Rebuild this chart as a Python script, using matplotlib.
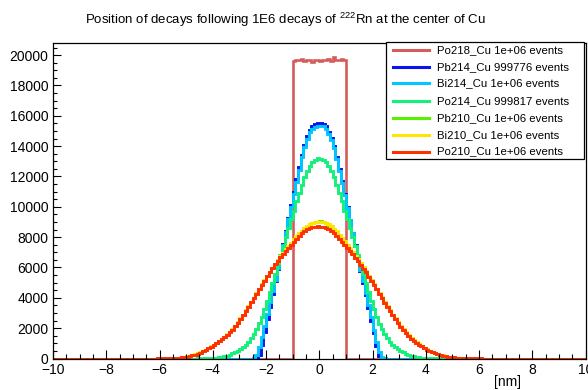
import numpy as np
import matplotlib
matplotlib.use("Agg")
import matplotlib.pyplot as plt
from matplotlib.lines import Line2D
from matplotlib.patches import Rectangle

plt.rcParams['font.family'] = ['Liberation Sans', 'DejaVu Sans']
plt.rcParams['mathtext.fontset'] = 'custom'
plt.rcParams['mathtext.rm'] = 'Liberation Sans'

# ---------------- data (counts per bin) ----------------
BIN = 0.1

po218_start = -1.0
po218 = [19600, 19700, 19650, 19750, 19600, 19700, 19650, 19550, 19700, 19650,
         19600, 19700, 19650, 19750, 19600, 19850, 19700, 19650, 19750, 19700]

pb214_start = -2.4
pb214_left = [0, 220, 880, 1720, 2580, 3420, 4280, 5080, 5900, 6750, 7580, 8420,
              9260, 10100, 10950, 11800, 12600, 13400, 14100, 14650, 15050, 15300, 15450, 15500]
pb214_right = [15520, 15450, 15300, 14950, 14550, 14000, 13300, 12500, 11700, 10850, 10000, 9150,
               8300, 7450, 6650, 5800, 5000, 4200, 3350, 2500, 1650, 800, 150, 0]

bi214_start = -2.5
bi214_left = [40, 250, 750, 1400, 2150, 2950, 3700, 4450, 5200, 5950, 6750, 7500, 8350,
              9200, 10000, 10850, 11650, 12450, 13250, 13950, 14500, 14900, 15150, 15250, 15350]
bi214_right = [15300, 15350, 15150, 14800, 14400, 13850, 13150, 12350, 11550, 10750, 9900, 9100,
               8250, 7400, 6650, 5850, 5100, 4350, 3550, 2750, 1900, 1100, 450, 100, 10]

po214_start = -4.7
po214_left = [0, 2, 4, 7, 11, 17, 26, 40, 58, 84, 115, 150, 195, 255, 330, 410, 510, 620, 750, 910,
              1110, 1340, 1610, 1960, 2320, 2760, 3260, 3800, 4400, 5000, 5600, 6200, 6800, 7400,
              8000, 8600, 9200, 9750, 10350, 10900, 11450, 11950, 12350, 12700, 12950, 13100, 13200]
po214_right = [13150, 13100, 12950, 12700, 12350, 11950, 11450, 10900, 10350, 9750, 9200, 8600,
               8000, 7400, 6800, 6200, 5600, 5000, 4400, 3800, 3250, 2750, 2300, 1950, 1600, 1330,
               1100, 900, 740, 610, 500, 400, 320, 250, 190, 145, 110, 80, 55, 38, 25, 16, 10, 6, 3, 1, 0]

wide_start = -6.2
pb210_left = [0, 2, 4, 7, 11, 17, 25, 35, 48, 64, 85, 110, 140, 176, 220, 272, 334, 405, 487, 578,
              680, 792, 905, 1025, 1155, 1295, 1435, 1585, 1745, 1925, 2135, 2385, 2635, 2895, 3165,
              3445, 3725, 4015, 4305, 4595, 4885, 5165, 5445, 5715, 5985, 6245, 6495, 6735, 6965,
              7195, 7415, 7635, 7845, 8055, 8245, 8425, 8595, 8735, 8845, 8925, 8985, 9030]
pb210_right = [9050, 8990, 8920, 8830, 8710, 8550, 8370, 8160, 7940, 7710, 7480, 7250, 7010, 6770,
               6520, 6270, 6010, 5740, 5460, 5180, 4890, 4600, 4310, 4020, 3730, 3440, 3160, 2890,
               2630, 2380, 2140, 1920, 1710, 1510, 1335, 1195, 1065, 940, 820, 710, 610, 520, 440,
               368, 305, 250, 203, 161, 127, 98, 74, 54, 39, 28, 20, 14, 9, 6, 4, 2, 1, 0]

bi210_left = [0, 2, 4, 7, 12, 18, 26, 36, 49, 65, 86, 112, 142, 178, 222, 275, 337, 408, 490, 582,
              684, 796, 910, 1030, 1160, 1300, 1440, 1590, 1750, 1930, 2140, 2390, 2640, 2900, 3170,
              3450, 3730, 4020, 4310, 4600, 4890, 5170, 5450, 5720, 5990, 6250, 6500, 6740, 6970,
              7200, 7420, 7640, 7850, 8060, 8250, 8430, 8600, 8740, 8850, 8930, 8980, 9000]
bi210_right = [9020, 8990, 8930, 8840, 8720, 8560, 8380, 8170, 7950, 7720, 7490, 7260, 7020, 6780,
               6530, 6280, 6020, 5750, 5470, 5190, 4900, 4610, 4320, 4030, 3740, 3450, 3170, 2900,
               2640, 2390, 2150, 1930, 1720, 1520, 1340, 1200, 1070, 945, 825, 715, 615, 525, 445,
               372, 308, 252, 205, 163, 128, 99, 75, 55, 40, 29, 21, 15, 10, 7, 4, 2, 1, 0]

po210_left = [0, 1, 3, 6, 10, 15, 22, 31, 43, 58, 78, 102, 130, 165, 208, 260, 320, 390, 470, 560,
              660, 770, 880, 1000, 1130, 1270, 1410, 1560, 1720, 1900, 2110, 2360, 2610, 2870, 3140,
              3420, 3700, 3990, 4280, 4570, 4860, 5140, 5420, 5690, 5950, 6200, 6440, 6670, 6890,
              7110, 7310, 7510, 7710, 7900, 8080, 8250, 8400, 8520, 8620, 8680, 8700, 8720]
po210_right = [8690, 8680, 8620, 8520, 8400, 8250, 8080, 7900, 7700, 7500, 7300, 7100, 6880, 6650,
               6420, 6180, 5930, 5670, 5400, 5120, 4840, 4550, 4260, 3970, 3680, 3400, 3120, 2850,
               2590, 2340, 2100, 1880, 1670, 1470, 1300, 1180, 1050, 920, 800, 690, 590, 500, 420,
               350, 290, 235, 190, 150, 118, 90, 68, 50, 37, 27, 19, 13, 9, 6, 4, 2, 1, 0]

labels = ["Po218_Cu 1e+06 events", "Pb214_Cu 999776 events", "Bi214_Cu 1e+06 events",
          "Po214_Cu 999817 events", "Pb210_Cu 1e+06 events", "Bi210_Cu 1e+06 events",
          "Po210_Cu 1e+06 events"]
colors = ['#d65c5c', '#0a14f0', '#00c8ff', '#14f07a', '#5af000', '#ffe600', '#ff3000']

series = [
    (po218_start, po218),
    (pb214_start, pb214_left + pb214_right),
    (bi214_start, bi214_left + bi214_right),
    (po214_start, po214_left + po214_right),
    (wide_start, pb210_left + pb210_right),
    (wide_start, bi210_left + bi210_right),
    (wide_start, po210_left + po210_right),
]
widths = [1.9, 2.1, 2.1, 2.1, 2.1, 2.1, 2.1]

# ---------------- figure ----------------
W, H = 588, 390
fig = plt.figure(figsize=(W / 100, H / 100), dpi=100)


def fx(px):
    return px / W


def fy(py):
    return 1 - py / H


ax_l, ax_r, ax_t, ax_b = 53.0, 585.6, 42.5, 358.5
ax = fig.add_axes([fx(ax_l), fy(ax_b), fx(ax_r - ax_l), (ax_b - ax_t) / H])

for (start, vals), c, lw in zip(series, colors, widths):
    edges = start + BIN * np.arange(len(vals) + 1)
    full_edges = np.concatenate([[-10.0], edges, [10.0]])
    full_vals = np.concatenate([[0.0], vals, [0.0]])
    ax.stairs(full_vals, full_edges, baseline=None, color=c, lw=lw)

ax.set_xlim(-10, 10)
ax.set_ylim(0, 20830)
ax.set_xticks(np.arange(-10, 11, 2))
ax.set_xticks(np.arange(-10, 10.01, 0.5), minor=True)
ax.set_yticks(np.arange(0, 20001, 2000))
ax.set_yticks(np.arange(0, 20801, 500), minor=True)
ax.set_xticklabels([f"\u2212{abs(v)}" if v < 0 else f"{v}" for v in range(-10, 11, 2)])
ax.tick_params(axis='both', which='both', direction='in', top=False, right=False,
               labelsize=10, color='black', width=0.8)
ax.tick_params(axis='x', which='major', length=6.5, pad=3.2)
ax.tick_params(axis='x', which='minor', length=3.5)
ax.tick_params(axis='y', which='major', length=5.5, pad=3.2)
ax.tick_params(axis='y', which='minor', length=3.0)
for s in ax.spines.values():
    s.set_linewidth(0.9)

# title
fig.text(fx(285), fy(20), r"Position of decays following 1E6 decays of $^{\mathregular{222}}$Rn at the center of Cu",
         ha='center', va='center', fontsize=9.5)
# axis title
fig.text(fx(521), fy(382), "[nm]", ha='right', va='center', fontsize=10)

# legend (drawn manually)
lg_l, lg_r, lg_t, lg_b = 386, 584, 42, 159
fig.add_artist(Rectangle((fx(lg_l), fy(lg_b)), fx(lg_r - lg_l), (lg_b - lg_t) / H,
                         transform=fig.transFigure, facecolor='white', edgecolor='black', lw=0.9))
rows = [50, 66.7, 83.4, 100.8, 117.8, 134.8, 151.6]
for py, lab, c in zip(rows, labels, colors):
    fig.add_artist(Line2D([fx(393), fx(429)], [fy(py), fy(py)], transform=fig.transFigure,
                          color=c, lw=2.2))
    fig.text(fx(437), fy(py), lab, ha='left', va='center', fontsize=8.2)

fig.savefig("out.png", dpi=100)
